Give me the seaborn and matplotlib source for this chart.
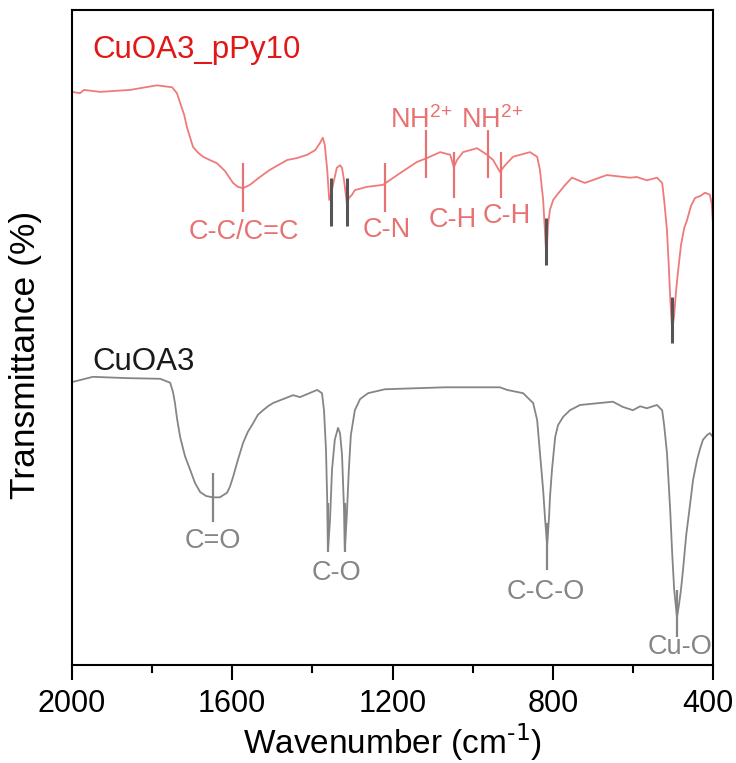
import numpy as np
import pandas as pd
import matplotlib
matplotlib.use("Agg")
import matplotlib.pyplot as plt
import matplotlib.transforms as mtransforms
import seaborn as sns

# ---------------- data ----------------
wn_ppy = [2000, 1980, 1970, 1930, 1855, 1788, 1750, 1738, 1730, 1720, 1713, 1705,
          1698, 1685, 1673, 1656, 1638, 1618, 1598, 1586, 1573, 1556, 1531, 1506,
          1463, 1438, 1413, 1393, 1381, 1374, 1369, 1363, 1358, 1354, 1346, 1339,
          1331, 1326, 1321, 1314, 1309, 1301, 1294, 1264, 1224, 1181, 1139, 1114,
          1081, 1056, 1047, 1039, 1024, 989, 964, 949, 932, 919, 899, 857, 839,
          832, 824, 819, 817, 814, 812, 807, 799, 789, 769, 752, 720, 665, 607,
          590, 565, 540, 527, 522, 515, 510, 507, 502, 497, 492, 487, 480, 472,
          465, 455, 445, 432, 420, 408, 403, 400]
t_ppy = [87.5, 87.3, 87.8, 87.5, 87.8, 88.5, 88.2, 87.3, 85.8, 84.0, 82.1, 80.5,
         79.1, 78.2, 77.6, 77.1, 76.6, 75.4, 73.6, 73.0, 72.8, 73.3, 74.5, 75.6,
         77.1, 77.4, 77.9, 78.6, 79.7, 80.5, 79.4, 75.6, 71.0, 71.8, 74.0, 75.9,
         76.3, 75.9, 74.0, 70.5, 71.3, 71.8, 72.5, 73.0, 73.3, 75.1, 76.8, 77.4,
         78.3, 77.9, 76.0, 77.1, 78.3, 78.9, 77.9, 77.1, 75.3, 76.3, 77.6, 78.3,
         77.6, 75.6, 71.0, 65.6, 63.4, 64.6, 67.2, 69.5, 71.0, 71.8, 73.3, 74.4,
         73.6, 74.8, 74.4, 74.5, 74.0, 74.4, 73.6, 71.0, 66.4, 60.3, 56.2, 51.1,
         53.4, 57.3, 60.3, 64.1, 66.7, 67.9, 70.1, 71.3, 71.6, 72.1, 71.8, 70.3,
         67.2]

wn_cuoa = [2000, 1980, 1948, 1863, 1780, 1755, 1748, 1743, 1738, 1730, 1718, 1705,
           1693, 1680, 1665, 1648, 1631, 1613, 1606, 1598, 1586, 1573, 1561, 1548,
           1536, 1523, 1511, 1498, 1448, 1431, 1388, 1376, 1371, 1366, 1363, 1361,
           1356, 1351, 1344, 1336, 1331, 1326, 1321, 1319, 1314, 1309, 1304, 1294,
           1281, 1261, 1219, 1069, 932, 914, 874, 849, 839, 832, 824, 819, 814,
           809, 807, 802, 794, 787, 774, 757, 732, 650, 625, 600, 582, 565, 540,
           527, 522, 515, 507, 502, 497, 490, 485, 480, 475, 467, 457, 450, 440,
           432, 425, 415, 408, 400]
t_cuoa = [43.2, 43.5, 44.0, 43.8, 43.7, 43.1, 41.7, 40.0, 37.7, 34.8, 31.9, 29.8,
          27.8, 26.4, 25.8, 25.6, 25.6, 26.3, 27.2, 28.7, 31.3, 33.9, 35.6, 36.9,
          38.2, 38.9, 39.5, 40.0, 41.2, 40.9, 42.0, 41.5, 38.9, 32.8, 25.2, 17.6,
          22.1, 29.8, 34.4, 36.2, 35.4, 32.1, 23.7, 17.6, 22.9, 29.8, 35.1, 38.9,
          40.6, 41.5, 42.1, 42.4, 42.4, 42.0, 41.5, 40.0, 37.4, 32.4, 26.7, 22.1,
          18.3, 22.9, 25.6, 29.8, 34.8, 36.6, 37.9, 38.9, 39.7, 40.2, 39.4, 38.9,
          39.5, 39.2, 39.7, 38.9, 36.6, 32.4, 23.7, 17.1, 11.5, 7.3, 9.2, 11.5,
          14.5, 19.8, 24.7, 28.2, 31.3, 33.1, 34.4, 35.1, 35.4, 34.8]

# band markers: position, bottom, top
red_mark_wn = [1573, 1219, 1116, 1047, 962, 929]
red_mark_lo = [69.2, 69.2, 74.4, 71.3, 74.4, 71.3]
red_mark_hi = [76.6, 76.6, 81.7, 78.3, 81.7, 78.3]

dark_mark_wn = [1354, 1314, 817, 502]
dark_mark_lo = [67.0, 67.0, 61.1, 49.2]
dark_mark_hi = [74.4, 74.4, 68.2, 56.2]

grey_mark_wn = [1648, 1361, 1319, 814, 490]
grey_mark_lo = [21.8, 17.3, 17.3, 14.5, 4.3]
grey_mark_hi = [29.3, 24.7, 24.7, 21.7, 11.5]

red_labels = ["C-C/C=C", "C-N", "C-H", "C-H", "NH$^{2{+}}$", "NH$^{2{+}}$"]
red_label_wn = [1571, 1214, 1049, 916, 1129, 952]
red_label_t = [66.1, 66.4, 67.9, 68.5, 83.2, 83.2]

grey_labels = ["C=O", "C-O", "C-C-O", "Cu-O"]
grey_label_wn = [1648, 1341, 817, 482]
grey_label_t = [18.9, 14.0, 11.1, 2.7]

series_names = ["CuOA3_pPy10", "CuOA3"]
series_label_wn = [1948, 1948]
series_label_t = [93.9, 46.3]

x_ticks = [2000, 1600, 1200, 800, 400]
x_minor = [1800, 1400, 1000, 600]

# ---------------- style ----------------
sns.set_style("ticks")
plt.rcParams['font.family'] = ['Liberation Sans', 'DejaVu Sans']
plt.rcParams['mathtext.default'] = 'regular'
plt.rcParams['text.color'] = 'black'
plt.rcParams['axes.labelcolor'] = 'black'
plt.rcParams['xtick.color'] = 'black'
plt.rcParams['xtick.labelcolor'] = 'black'

RED_LINE = "#f07a7a"
RED_TXT = "#e87272"
RED_TITLE = "#e01818"
GREY = "#858585"
DARK = "#555555"

fig = plt.figure(figsize=(7.36, 7.63), dpi=100)
ax = fig.add_axes([0.0978, 0.1284, 0.8710, 0.8585])

df_ppy = pd.DataFrame({"wn": wn_ppy, "T": t_ppy})
df_cuoa = pd.DataFrame({"wn": wn_cuoa, "T": t_cuoa})

sns.lineplot(data=df_ppy, x="wn", y="T", sort=False, estimator=None,
             color=RED_LINE, linewidth=1.3, ax=ax)
sns.lineplot(data=df_cuoa, x="wn", y="T", sort=False, estimator=None,
             color=GREY, linewidth=1.3, ax=ax)

ax.vlines(red_mark_wn, red_mark_lo, red_mark_hi, color=RED_TXT, linewidth=1.6)
ax.vlines(dark_mark_wn, dark_mark_lo, dark_mark_hi, color=DARK, linewidth=2.2)
ax.vlines(grey_mark_wn, grey_mark_lo, grey_mark_hi, color=GREY, linewidth=1.6)

for s, x, y in zip(red_labels, red_label_wn, red_label_t):
    ax.text(x, y, s, color=RED_TXT, fontsize=19.5, ha="center", va="center")
for s, x, y in zip(grey_labels, grey_label_wn, grey_label_t):
    ax.text(x, y, s, color=GREY, fontsize=19.5, ha="center", va="center")

ax.text(series_label_wn[0], series_label_t[0], series_names[0], color=RED_TITLE,
        fontsize=22.5, ha="left", va="center")
ax.text(series_label_wn[1], series_label_t[1], series_names[1], color="#1a1a1a",
        fontsize=22.5, ha="left", va="center")

ax.set_xlim(2000, 400)
ax.set_ylim(0, 100)
ax.set_xticks(x_ticks)
ax.set_xticks(x_minor, minor=True)
ax.set_xticklabels([str(v) for v in x_ticks])
ax.set_yticks([])
ax.tick_params(axis="x", which="major", direction="out", length=11, width=1.5,
               labelsize=22, pad=6, color="black")
ax.tick_params(axis="x", which="minor", direction="out", length=6, width=1.5,
               color="black")
# nudge the last tick label so it stays inside the canvas
last = ax.get_xticklabels()[-1]
last.set_transform(last.get_transform() +
                   mtransforms.ScaledTranslation(-5 / 100, 0, fig.dpi_scale_trans))

ax.set_xlabel("Wavenumber (cm$^{\\text{-1}}$)", fontsize=24, labelpad=2)
ax.set_ylabel("Transmittance (%)", fontsize=25.5)
ax.yaxis.set_label_coords(-0.047, 0.473)

for sp in ax.spines.values():
    sp.set_visible(True)
    sp.set_linewidth(1.5)
    sp.set_color("black")

fig.savefig("out.png", dpi=100)
